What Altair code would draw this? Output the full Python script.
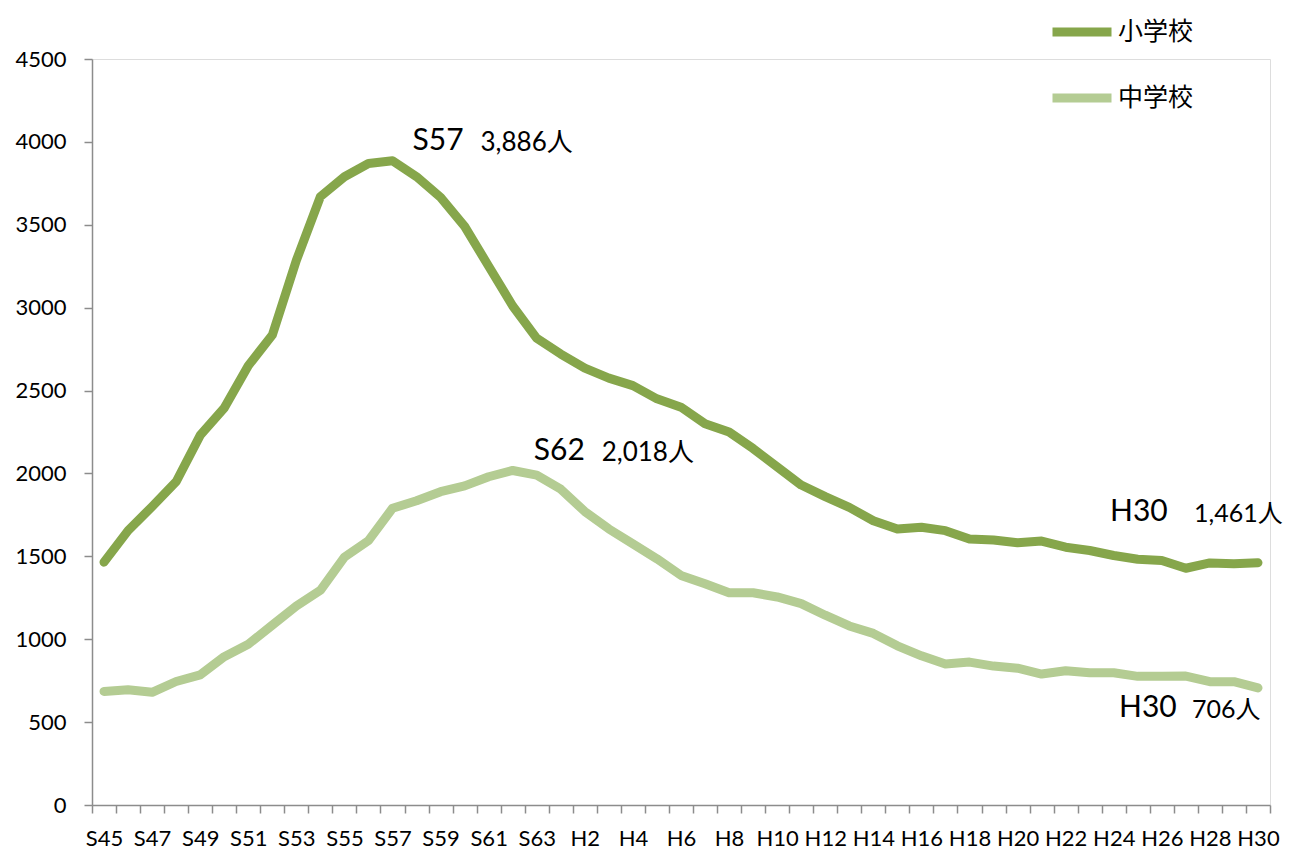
import altair as alt
import pandas as pd

cats = [f"S{i}" for i in range(45, 64)] + [f"H{i}" for i in range(1, 31)]

elem = [1465, 1655, 1800, 1950, 2230, 2395, 2650, 2835, 3285, 3670,
        3790, 3870, 3886, 3790, 3665, 3490, 3250, 3010, 2815,
        2720, 2635, 2575, 2530, 2450, 2400, 2300, 2250, 2150, 2040,
        1930, 1860, 1795, 1715, 1665, 1675, 1655, 1605, 1598, 1582,
        1592, 1555, 1535, 1505, 1482, 1475, 1428, 1460, 1455, 1461]

junior = [685, 695, 680, 745, 785, 895, 970, 1085, 1200, 1295,
          1495, 1595, 1790, 1835, 1890, 1925, 1980, 2018, 1990,
          1905, 1770, 1665, 1575, 1485, 1385, 1335, 1280, 1280, 1255,
          1215, 1145, 1080, 1035, 960, 900, 850, 862, 838, 825,
          790, 810, 798, 798, 776, 776, 778, 744, 744, 706]

series_names = ["小学校", "中学校"]
series_colors = ["#86A64B", "#B4CC93"]

shown_labels = cats[::2]

# annotations: (category, value, big text, small text)
annots = [
    ("S57", 3886, "S57", "3,886人"),
    ("S62", 2018, "S62", "2,018人"),
    ("H30", 1461, "H30", "1,461人"),
    ("H30", 706, "H30", "706人"),
]

df = pd.DataFrame({
    "cat": cats * 2,
    "value": elem + junior,
    "series": [series_names[0]] * len(cats) + [series_names[1]] * len(cats),
})

FONT = "Lato, 'Noto Sans CJK JP', sans-serif"
AXIS_COLOR = "#8C8C8C"

label_expr = "indexof([" + ",".join(f"'{c}'" for c in shown_labels) + "], datum.value) >= 0 ? datum.label : ''"

x_enc = alt.X(
    "cat:N", sort=cats, bandPosition=0.5,
    scale=alt.Scale(type="band", paddingInner=0, paddingOuter=0),
    axis=alt.Axis(title=None, labelAngle=0, labelExpr=label_expr, labelOverlap=False,
                  tickBand="extent", tickSize=8, tickColor=AXIS_COLOR, domainColor=AXIS_COLOR,
                  labelFont=FONT, labelFontSize=22, labelColor="#000000", labelPadding=15,
                  domainWidth=1.5, tickWidth=1.5),
)
y_scale = alt.Scale(domain=[0, 4500], nice=False)

lines = alt.Chart(df).mark_line(strokeWidth=9, strokeCap="round", strokeJoin="round").encode(
    x=x_enc,
    y=alt.Y("value:Q", scale=y_scale,
            axis=alt.Axis(title=None, values=list(range(0, 4501, 500)), grid=False, format="d",
                          tickSize=8, tickColor=AXIS_COLOR, domainColor=AXIS_COLOR,
                          labelFont=FONT, labelFontSize=22, labelColor="#000000",
                          labelPadding=18, domainWidth=1.5, tickWidth=1.5)),
    color=alt.Color("series:N", scale=alt.Scale(domain=series_names, range=series_colors),
                    legend=alt.Legend(title=None, orient="none", legendX=956, legendY=-61,
                                      symbolType="stroke", symbolSize=3481, symbolStrokeWidth=9,
                                      labelFont="'Noto Sans CJK JP', sans-serif", labelFontSize=25,
                                      labelColor="#000000", labelOffset=2, rowPadding=14,
                                      padding=0)),
)

big_offsets = [(20, -20), (21, -19), (-148, -51), (-139, 20)]
small_offsets = [(88, -18), (89, -17), (-64, -49), (-66, 22)]
big_sizes = [30, 30, 30, 30]
small_sizes = [26, 26, 25, 25]

layers = [lines]
for (c, v, big, small), (bdx, bdy), (sdx, sdy), bs, ss in zip(annots, big_offsets, small_offsets, big_sizes, small_sizes):
    a = pd.DataFrame({"cat": [c], "value": [v], "big": [big], "small": [small]})
    layers.append(alt.Chart(a).mark_text(align="left", baseline="middle", font=FONT, fontSize=bs,
                                         dx=bdx, dy=bdy, color="#000000").encode(
        x=alt.X("cat:N", sort=cats, bandPosition=0.5), y=alt.Y("value:Q", scale=y_scale), text="big:N"))
    layers.append(alt.Chart(a).mark_text(align="left", baseline="middle", font=FONT, fontSize=ss,
                                         dx=sdx, dy=sdy, color="#000000").encode(
        x=alt.X("cat:N", sort=cats, bandPosition=0.5), y=alt.Y("value:Q", scale=y_scale), text="small:N"))

chart = alt.layer(*layers).properties(
    width=1178, height=746,
    autosize=alt.AutoSizeParams(type="none"),
    padding={"left": 84, "top": 51, "right": 13, "bottom": 48},
).configure_view(stroke=None).configure(background="white")

chart.save("out.html", embed_options={"renderer": "svg", "actions": False})
